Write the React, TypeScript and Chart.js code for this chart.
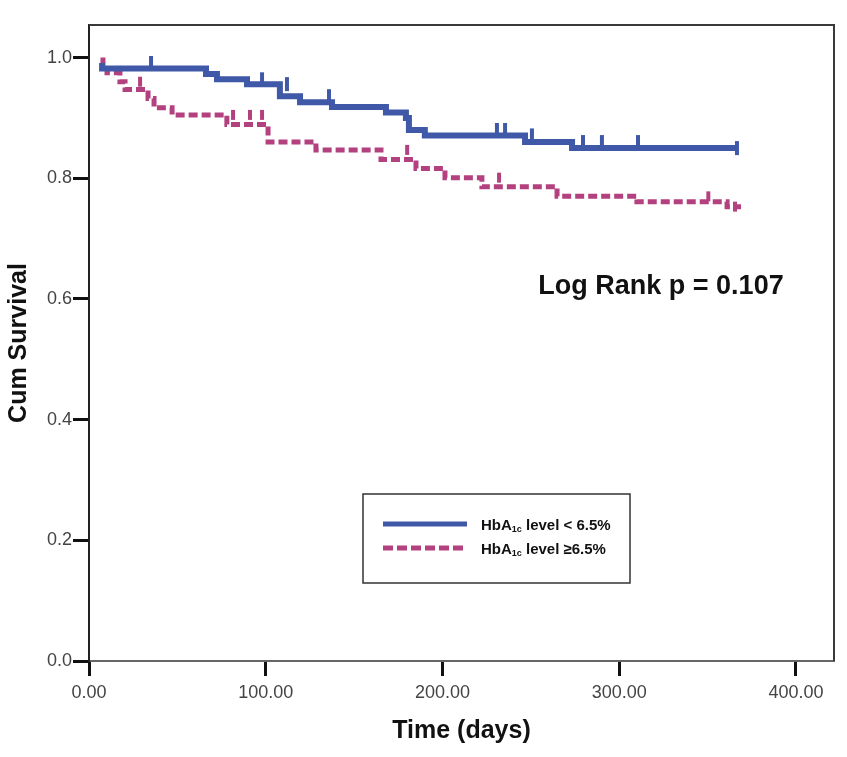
import React, { useEffect, useRef } from "react";
import { Chart, registerables } from "chart.js";
Chart.register(...registerables);

// Tick values
const xTickValues = [0, 100, 200, 300, 400];
const yTickValues = [0, 0.2, 0.4, 0.6, 0.8, 1.0];

// HbA1c < 6.5% (Kaplan–Meier steps)
const lowTimes = [7.4, 66.2, 72.4, 89.4, 108.0, 119.4, 137.5, 168.0, 179.3, 181.0, 190.0, 246.7, 273.3, 311.8, 366.6];
const lowSurv = [0.991, 0.982, 0.973, 0.964, 0.956, 0.936, 0.926, 0.918, 0.909, 0.9, 0.88, 0.871, 0.86, 0.85, 0.85];
const lowCensorTimes = [35.1, 97.9, 112.0, 135.8, 230.8, 235.4, 250.6, 279.5, 290.2, 310.6, 366.6];
const lowCensorSurv = [0.991, 0.964, 0.956, 0.936, 0.88, 0.88, 0.871, 0.86, 0.86, 0.86, 0.85];

// HbA1c >= 6.5%
const highTimes = [7.9, 10.2, 17.5, 20.4, 33.4, 36.8, 47.0, 78.0, 101.3, 128.4, 165.2, 185.0, 201.4, 222.3, 264.8, 310.0, 361.0, 363.2, 368.9];
const highSurv = [1.0, 0.987, 0.975, 0.96, 0.947, 0.932, 0.917, 0.905, 0.889, 0.86, 0.847, 0.831, 0.816, 0.801, 0.786, 0.77, 0.761, 0.753, 0.753];
const highCensorTimes = [28.9, 81.5, 91.1, 97.9, 180.0, 232.0, 350.4, 365.5];
const highCensorSurv = [0.96, 0.905, 0.905, 0.905, 0.847, 0.801, 0.77, 0.753];

const seriesLabels = ["level < 6.5%", "level \u22656.5%"];
const logRankText = "Log Rank p = 0.107";
const xTitle = "Time (days)";
const yTitle = "Cum Survival";

const BLUE = "#3F58A8";
const PINK = "#B4417F";
const FONT = "'Liberation Sans', Arial, sans-serif";

const pts = (t: number[], s: number[]) => t.map((x, i) => ({ x, y: s[i] }));

const decorPlugin = {
  id: "decor",
  afterDraw(chart: any) {
    const ctx: CanvasRenderingContext2D = chart.ctx;
    const a = chart.chartArea;
    ctx.save();
    // frame top & right
    ctx.strokeStyle = "#3a3a3a";
    ctx.lineWidth = 2;
    ctx.beginPath();
    ctx.moveTo(a.left, a.top);
    ctx.lineTo(a.right, a.top);
    ctx.lineTo(a.right, a.bottom);
    ctx.stroke();

    // Log rank text
    ctx.fillStyle = "#111";
    ctx.font = `bold 27px ${FONT}`;
    ctx.textAlign = "center";
    ctx.textBaseline = "alphabetic";
    ctx.fillText(logRankText, 661, 294);

    // axis titles
    ctx.font = `bold 25px ${FONT}`;
    ctx.textBaseline = "middle";
    ctx.fillText(xTitle, (a.left + a.right) / 2, 731);
    ctx.save();
    ctx.translate(19, (a.top + a.bottom) / 2);
    ctx.rotate(-Math.PI / 2);
    ctx.fillText(yTitle, 0, 0);
    ctx.restore();

    // legend box
    const bx = 363, by = 494, bw = 267, bh = 89;
    ctx.strokeStyle = "#333";
    ctx.lineWidth = 1.5;
    ctx.strokeRect(bx, by, bw, bh);
    const entries = [
      { color: BLUE, dash: [] as number[], label: seriesLabels[0], y: 524 },
      { color: PINK, dash: [10, 4], label: seriesLabels[1], y: 548 },
    ];
    for (const e of entries) {
      ctx.strokeStyle = e.color;
      ctx.lineWidth = 5;
      ctx.setLineDash(e.dash);
      ctx.beginPath();
      ctx.moveTo(383, e.y);
      ctx.lineTo(467, e.y);
      ctx.stroke();
      ctx.setLineDash([]);
      ctx.fillStyle = "#111";
      ctx.textAlign = "left";
      ctx.textBaseline = "alphabetic";
      let x = 481;
      const base = e.y + 6;
      ctx.font = `bold 15px ${FONT}`;
      ctx.fillText("HbA", x, base);
      x += ctx.measureText("HbA").width;
      ctx.font = `bold 9px ${FONT}`;
      ctx.fillText("1c", x, base + 2);
      x += ctx.measureText("1c").width;
      ctx.font = `bold 15px ${FONT}`;
      ctx.fillText(" " + e.label, x, base);
    }
    ctx.restore();
  },
};

export default function App() {
  const ref = useRef<HTMLCanvasElement>(null);
  useEffect(() => {
    document.body.style.margin = "0";
    const canvas = ref.current!;
    const chart = new Chart(canvas, {
      type: "line",
      data: {
        datasets: [
          {
            label: "low",
            data: pts(lowTimes, lowSurv),
            stepped: "after",
            borderColor: BLUE,
            borderWidth: 6,
            pointRadius: 0,
            fill: false,
            order: 1,
          },
          {
            label: "high",
            data: pts(highTimes, highSurv),
            stepped: "after",
            borderColor: PINK,
            borderWidth: 5,
            borderDash: [9, 4],
            pointRadius: 0,
            fill: false,
            order: 2,
          },
          {
            label: "lowCensor",
            data: pts(lowCensorTimes, lowCensorSurv),
            showLine: false,
            pointStyle: "line",
            rotation: 90,
            pointRadius: 7,
            pointBorderWidth: 4,
            pointBorderColor: BLUE,
            borderColor: BLUE,
            order: 0,
          },
          {
            label: "highCensor",
            data: pts(highCensorTimes, highCensorSurv),
            showLine: false,
            pointStyle: "line",
            rotation: 90,
            pointRadius: 5,
            pointBorderWidth: 4,
            pointBorderColor: PINK,
            borderColor: PINK,
            order: 0,
          },
        ] as any,
      },
      options: {
        responsive: false,
        animation: false,
        layout: { padding: { top: 25, right: 13, left: 0, bottom: 0 } },
        plugins: { legend: { display: false }, tooltip: { enabled: false } },
        scales: {
          x: {
            type: "linear",
            min: 0,
            max: 421.5,
            afterFit: (s: any) => {
              s.height = 96;
            },
            afterBuildTicks: (s: any) => {
              s.ticks = xTickValues.map((v) => ({ value: v }));
            },
            ticks: {
              callback: (v: any) => Number(v).toFixed(2),
              font: { family: FONT, size: 18 },
              color: "#444",
              padding: 6,
              maxRotation: 0,
              autoSkip: false,
            },
            grid: { drawOnChartArea: false, tickLength: 15, tickWidth: 3, tickColor: "#111" },
            border: { color: "#666", width: 2 },
          },
          y: {
            type: "linear",
            min: 0,
            max: 1.054,
            afterFit: (s: any) => {
              s.width = 89;
            },
            afterBuildTicks: (s: any) => {
              s.ticks = yTickValues.map((v) => ({ value: v }));
            },
            ticks: {
              callback: (v: any) => Number(v).toFixed(1),
              font: { family: FONT, size: 18 },
              color: "#444",
              padding: 1,
            },
            grid: { drawOnChartArea: false, tickLength: 16, tickWidth: 3, tickColor: "#111" },
            border: { color: "#222", width: 2 },
          },
        },
      } as any,
      plugins: [decorPlugin],
    });
    return () => chart.destroy();
  }, []);
  return (
    <div style={{ width: 847, height: 757, background: "#fff" }}>
      <canvas ref={ref} width={847} height={757} style={{ display: "block" }} />
    </div>
  );
}
